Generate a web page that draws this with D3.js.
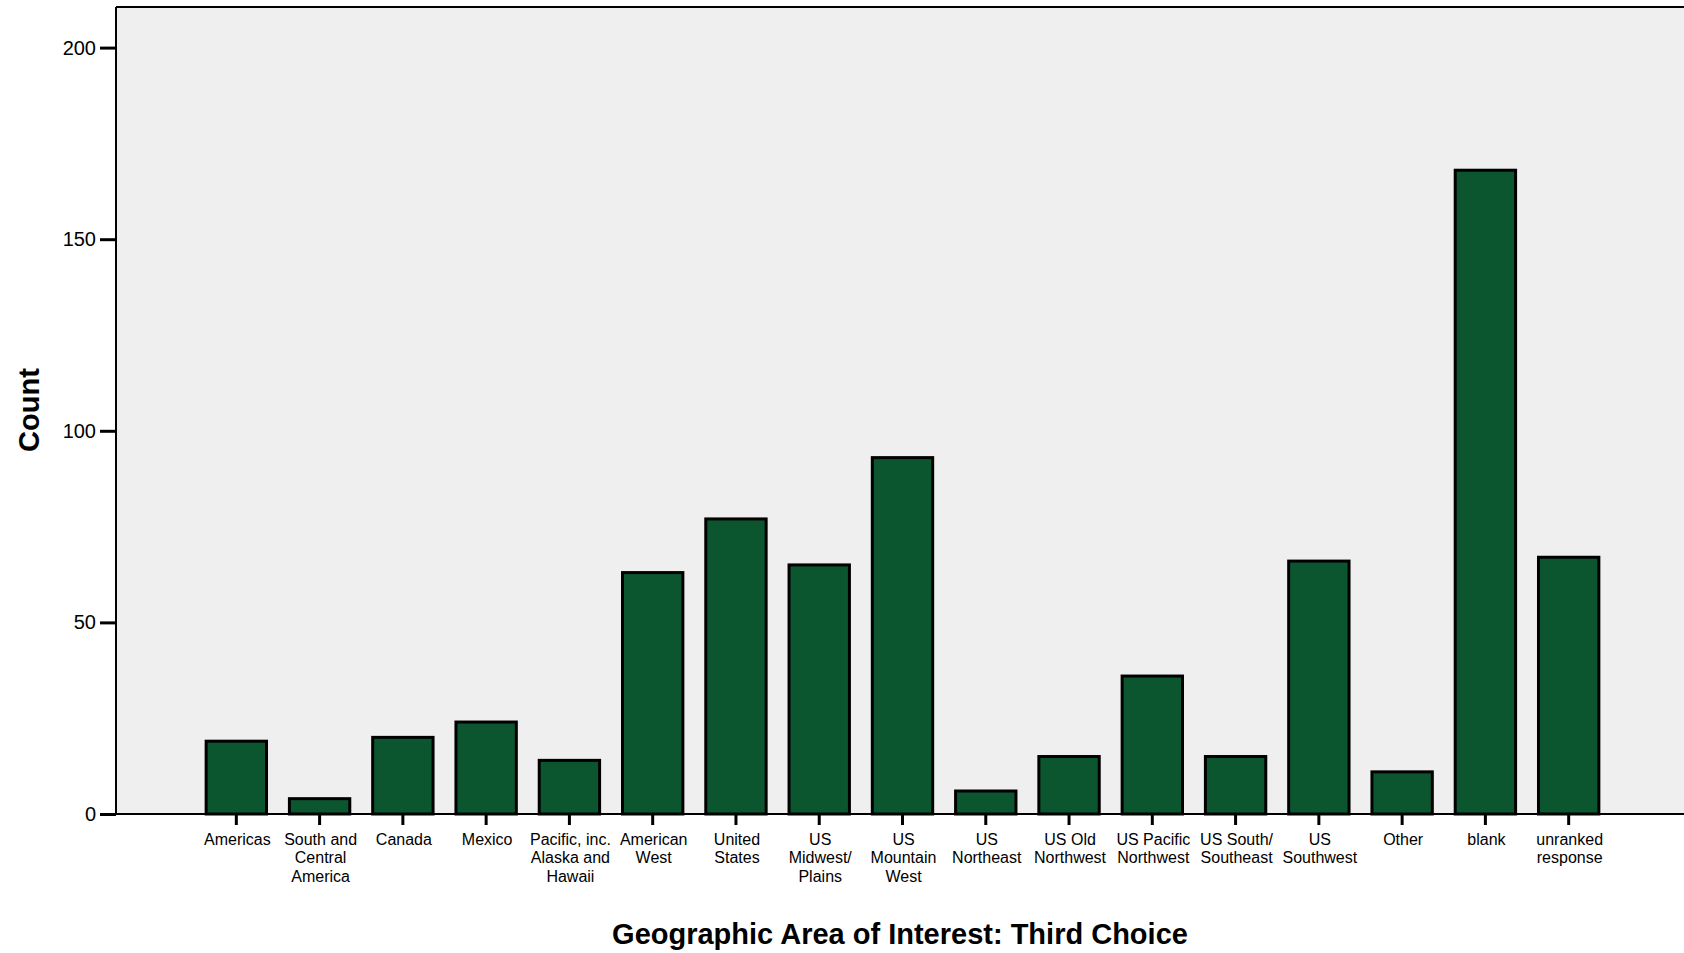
<!DOCTYPE html>
<html>
<head>
<meta charset="utf-8">
<script src="https://cdn.jsdelivr.net/npm/d3@7"></script>
<style>
  html, body { margin: 0; padding: 0; background: #ffffff; }
  svg { display: block; }
  text { font-family: "Liberation Sans", Arial, sans-serif; fill: #000; }
</style>
</head>
<body>
<svg id="chart" width="1684" height="953"></svg>
<script>
// ---- data ----
const categories = [
  "Americas", "South and Central America", "Canada", "Mexico",
  "Pacific, inc. Alaska and Hawaii", "American West", "United States",
  "US Midwest/ Plains", "US Mountain West", "US Northeast", "US Old Northwest",
  "US Pacific Northwest", "US South/ Southeast", "US Southwest", "Other",
  "blank", "unranked response"
];
const categoryLabelLines = [
  ["Americas"], ["South and", "Central", "America"], ["Canada"], ["Mexico"],
  ["Pacific, inc.", "Alaska and", "Hawaii"], ["American", "West"], ["United", "States"],
  ["US", "Midwest/", "Plains"], ["US", "Mountain", "West"], ["US", "Northeast"], ["US Old", "Northwest"],
  ["US Pacific", "Northwest"], ["US South/", "Southeast"], ["US", "Southwest"], ["Other"],
  ["blank"], ["unranked", "response"]
];
const counts = [19, 4, 20, 24, 14, 63, 77, 65, 93, 6, 15, 36, 15, 66, 11, 168, 67];
const yTicks = [0, 50, 100, 150, 200];
const xTitle = "Geographic Area of Interest: Third Choice";
const yTitle = "Count";

// ---- layout ----
const W = 1684, H = 953;
const plot = { left: 116, top: 7, right: 1689, bottom: 814 };

const svg = d3.select("#chart");

const x = d3.scaleBand()
  .domain(categories)
  .range([plot.left, plot.right])
  .paddingInner(0.275)
  .paddingOuter(1.0825);

const y = d3.scaleLinear()
  .domain([0, 200])
  .range([plot.bottom, 47.6]);

// background
svg.append("rect")
  .attr("x", plot.left).attr("y", plot.top)
  .attr("width", W - plot.left).attr("height", plot.bottom - plot.top)
  .attr("fill", "#efefef");

// top border
svg.append("line")
  .attr("x1", plot.left).attr("x2", W)
  .attr("y1", plot.top).attr("y2", plot.top)
  .attr("stroke", "#000").attr("stroke-width", 2);

// bars
svg.append("g").selectAll("rect")
  .data(categories)
  .join("rect")
  .attr("x", d => x(d))
  .attr("y", (d, i) => y(counts[i]))
  .attr("width", x.bandwidth())
  .attr("height", (d, i) => y(0) - y(counts[i]))
  .attr("fill", "#0b562f")
  .attr("stroke", "#000")
  .attr("stroke-width", 3);

// y axis
const yAxis = d3.axisLeft(y).tickValues(yTicks).tickSize(16).tickPadding(4).tickFormat(d3.format("d"));
const gy = svg.append("g").attr("transform", `translate(${plot.left},0)`).call(yAxis);
gy.select(".domain").attr("d", `M0,${plot.top}V${plot.bottom}`).attr("stroke", "#000").attr("stroke-width", 2);
gy.selectAll(".tick line").attr("stroke", "#000").attr("stroke-width", 3);
gy.selectAll(".tick text").attr("font-size", 20).attr("font-family", "Liberation Sans, Arial, sans-serif").attr("fill", "#000");

// x axis
const xAxis = d3.axisBottom(x).tickSize(11).tickFormat("");
const gx = svg.append("g").attr("transform", `translate(0,${plot.bottom})`).call(xAxis);
gx.select(".domain").attr("d", `M${plot.left},0H${W}`).attr("stroke", "#000").attr("stroke-width", 2);
gx.selectAll(".tick line").attr("stroke", "#000").attr("stroke-width", 3);
gx.selectAll(".tick").each(function(d, i) {
  const t = d3.select(this).append("text")
    .attr("text-anchor", "middle")
    .attr("font-size", 16)
    .attr("x", 1)
    .attr("y", 31);
  categoryLabelLines[i].forEach((line, j) => {
    t.append("tspan").attr("x", 1).attr("dy", j === 0 ? 0 : 18.3).text(line);
  });
});

// axis titles
svg.append("text")
  .attr("x", (plot.left + W) / 2).attr("y", 944)
  .attr("text-anchor", "middle")
  .attr("font-size", 29).attr("font-weight", "bold")
  .text(xTitle);

svg.append("text")
  .attr("transform", `translate(39,410) rotate(-90)`)
  .attr("text-anchor", "middle")
  .attr("font-size", 29).attr("font-weight", "bold")
  .text(yTitle);
</script>
</body>
</html>
